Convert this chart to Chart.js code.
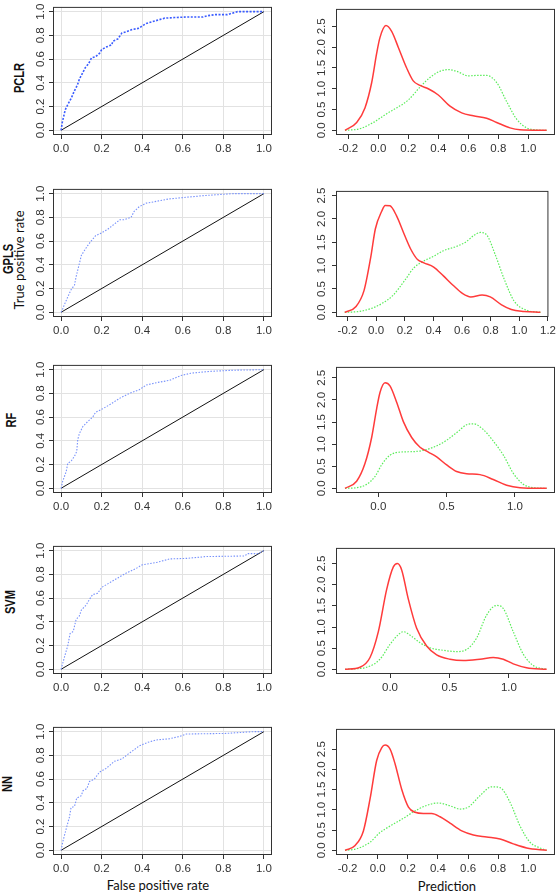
<!DOCTYPE html>
<html>
<head>
<meta charset="utf-8">
<script src="https://cdn.jsdelivr.net/npm/chart.js@4.4.0/dist/chart.umd.min.js"></script>
<style>
  body { margin: 0; background: #fff; width: 559px; height: 893px; position: relative; overflow: hidden; }
  canvas { position: absolute; }
  .lbl { position: absolute; white-space: nowrap; line-height: 1; color: #111; }
  .model { font-family: 'Liberation Sans', Arial, sans-serif; font-size: 15px; font-weight: bold; transform: translate(-50%, -50%) rotate(-90deg) scaleX(0.74); }
  .axt { font-family: Lato, 'Open Sans', sans-serif; font-size: 13px; transform: translate(-50%, -50%); }
  .axt.rot { transform: translate(-50%, -50%) rotate(-90deg); }
</style>
</head>
<body>

<div class="lbl model" style="left:18px; top:78px;">PCLR</div>
<div class="lbl model" style="left:6.5px; top:259px;">GPLS</div>
<div class="lbl axt rot" style="left:18.5px; top:259.5px;">True positive rate</div>
<div class="lbl model" style="left:10px; top:420px;">RF</div>
<div class="lbl model" style="left:9px; top:602px;">SVM</div>
<div class="lbl model" style="left:6px; top:784px;">NN</div>
<div class="lbl axt" style="left:158px; top:885px;">False positive rate</div>
<div class="lbl axt" style="left:447px; top:886px;">Prediction</div>

<script>
// ROC curves: [false positive rate, true positive rate]
const pclrRoc = [[0,0],[0.005,0.06],[0.02,0.17],[0.025,0.19],[0.04,0.24],[0.05,0.27],[0.065,0.33],[0.08,0.38],[0.09,0.43],[0.105,0.48],[0.12,0.53],[0.135,0.56],[0.15,0.61],[0.17,0.62],[0.19,0.65],[0.2,0.68],[0.22,0.70],[0.25,0.72],[0.255,0.75],[0.28,0.77],[0.30,0.82],[0.32,0.83],[0.35,0.85],[0.385,0.86],[0.40,0.88],[0.42,0.90],[0.45,0.915],[0.48,0.93],[0.51,0.945],[0.56,0.95],[0.62,0.955],[0.70,0.955],[0.72,0.965],[0.76,0.975],[0.82,0.975],[0.84,0.985],[0.87,1.0],[1,1]];
const gplsRoc = [[0,0],[0.008,0.03],[0.016,0.064],[0.033,0.13],[0.049,0.19],[0.066,0.23],[0.074,0.30],[0.09,0.41],[0.1,0.48],[0.115,0.52],[0.13,0.56],[0.148,0.60],[0.17,0.645],[0.2,0.67],[0.23,0.70],[0.26,0.74],[0.29,0.78],[0.31,0.78],[0.345,0.80],[0.36,0.85],[0.385,0.89],[0.42,0.92],[0.47,0.935],[0.53,0.955],[0.62,0.97],[0.715,0.985],[0.85,1.0],[1,1]];
const rfRoc = [[0,0],[0.008,0.06],[0.025,0.14],[0.033,0.21],[0.05,0.23],[0.066,0.27],[0.077,0.31],[0.082,0.41],[0.09,0.46],[0.107,0.52],[0.13,0.56],[0.156,0.60],[0.17,0.64],[0.205,0.67],[0.245,0.71],[0.29,0.76],[0.337,0.80],[0.385,0.83],[0.42,0.87],[0.47,0.89],[0.535,0.91],[0.59,0.95],[0.64,0.97],[0.73,0.985],[0.85,0.995],[1,1]];
const svmRoc = [[0,0],[0.016,0.10],[0.033,0.2],[0.044,0.30],[0.06,0.32],[0.074,0.42],[0.09,0.45],[0.1,0.50],[0.123,0.54],[0.14,0.59],[0.156,0.63],[0.18,0.64],[0.2,0.69],[0.23,0.72],[0.28,0.77],[0.32,0.81],[0.37,0.85],[0.4,0.88],[0.47,0.90],[0.535,0.93],[0.62,0.935],[0.715,0.95],[0.905,0.955],[0.92,0.975],[0.97,0.975],[1,1]];
const nnRoc = [[0,0],[0.008,0.07],[0.025,0.18],[0.041,0.28],[0.049,0.36],[0.066,0.37],[0.077,0.44],[0.1,0.46],[0.107,0.50],[0.127,0.52],[0.14,0.58],[0.164,0.60],[0.19,0.66],[0.222,0.69],[0.263,0.75],[0.30,0.77],[0.33,0.81],[0.354,0.84],[0.386,0.88],[0.428,0.91],[0.47,0.93],[0.535,0.94],[0.584,0.96],[0.617,0.98],[0.81,0.985],[0.95,1.0],[1,1]];
const chanceLine = [[0,0],[1,1]];

// prediction densities: [prediction, density]; red = negatives, green = positives
const pclrNeg = [[-0.222,0],[-0.144,0.19],[-0.089,0.54],[-0.044,1.15],[-0.011,1.85],[0.011,2.23],[0.051,2.52],[0.089,2.38],[0.133,2.0],[0.189,1.5],[0.233,1.19],[0.278,1.08],[0.333,1.0],[0.4,0.85],[0.478,0.58],[0.556,0.42],[0.633,0.35],[0.722,0.29],[0.789,0.19],[0.878,0.06],[0.944,0.015],[1.122,0]];
const pclrPos = [[-0.222,0],[-0.122,0.04],[-0.033,0.19],[0.056,0.40],[0.122,0.54],[0.2,0.73],[0.278,1.04],[0.344,1.27],[0.411,1.42],[0.467,1.46],[0.522,1.42],[0.6,1.31],[0.656,1.32],[0.722,1.32],[0.789,1.15],[0.856,0.69],[0.922,0.27],[0.989,0.06],[1.056,0.01],[1.122,0]];
const gplsNeg = [[-0.219,0],[-0.14,0.125],[-0.084,0.47],[-0.038,1.17],[-0.005,1.79],[0.04,2.17],[0.063,2.29],[0.097,2.28],[0.142,2.07],[0.199,1.65],[0.244,1.34],[0.289,1.13],[0.334,1.06],[0.402,0.97],[0.47,0.78],[0.537,0.58],[0.605,0.40],[0.661,0.33],[0.74,0.37],[0.797,0.33],[0.876,0.16],[0.944,0.06],[1.034,0.02],[1.147,0]];
const gplsPos = [[-0.219,0],[-0.117,0.02],[-0.027,0.09],[0.041,0.19],[0.12,0.37],[0.199,0.68],[0.266,0.96],[0.334,1.10],[0.402,1.20],[0.47,1.32],[0.56,1.41],[0.628,1.51],[0.684,1.65],[0.729,1.71],[0.774,1.65],[0.831,1.24],[0.898,0.68],[0.966,0.23],[1.056,0.04],[1.147,0]];
const rfNeg = [[-0.244,0],[-0.159,0.16],[-0.098,0.56],[-0.049,1.15],[-0.012,1.81],[0.012,2.17],[0.049,2.39],[0.085,2.32],[0.134,1.95],[0.183,1.51],[0.244,1.15],[0.305,0.93],[0.366,0.82],[0.427,0.71],[0.5,0.53],[0.573,0.38],[0.646,0.33],[0.744,0.31],[0.841,0.20],[0.939,0.07],[1.037,0.015],[1.232,0]];
const rfPos = [[-0.244,0],[-0.159,0.015],[-0.085,0.09],[-0.024,0.27],[0.024,0.53],[0.085,0.75],[0.159,0.82],[0.256,0.83],[0.329,0.86],[0.427,0.96],[0.5,1.09],[0.585,1.29],[0.646,1.44],[0.695,1.46],[0.768,1.33],[0.841,1.07],[0.915,0.75],[0.988,0.34],[1.061,0.09],[1.134,0.015],[1.232,0]];
const svmNeg = [[-0.378,0],[-0.252,0.05],[-0.168,0.28],[-0.098,0.89],[-0.028,1.89],[0.028,2.42],[0.062,2.5],[0.098,2.35],[0.154,1.66],[0.224,0.97],[0.308,0.55],[0.392,0.34],[0.504,0.24],[0.616,0.21],[0.756,0.24],[0.868,0.28],[0.952,0.24],[1.036,0.13],[1.148,0.04],[1.317,0]];
const svmPos = [[-0.378,0],[-0.196,0.05],[-0.084,0.24],[0,0.59],[0.07,0.82],[0.112,0.89],[0.182,0.78],[0.252,0.63],[0.336,0.51],[0.448,0.45],[0.56,0.42],[0.644,0.47],[0.728,0.74],[0.812,1.28],[0.896,1.51],[0.952,1.44],[1.036,0.89],[1.12,0.36],[1.204,0.09],[1.317,0]];
const nnNeg = [[-0.217,0],[-0.15,0.12],[-0.095,0.48],[-0.051,1.27],[-0.007,2.22],[0.027,2.54],[0.049,2.6],[0.082,2.5],[0.115,2.14],[0.159,1.51],[0.204,1.07],[0.248,0.94],[0.303,0.91],[0.358,0.91],[0.414,0.83],[0.48,0.67],[0.558,0.48],[0.635,0.38],[0.723,0.33],[0.812,0.28],[0.9,0.16],[0.989,0.06],[1.122,0]];
const nnPos = [[-0.217,0],[-0.139,0.04],[-0.051,0.2],[0.015,0.44],[0.082,0.6],[0.17,0.79],[0.237,0.95],[0.325,1.11],[0.403,1.17],[0.48,1.10],[0.546,1.02],[0.602,1.07],[0.679,1.35],[0.757,1.57],[0.812,1.55],[0.878,1.19],[0.945,0.6],[1.011,0.2],[1.077,0.06],[1.122,0]];

// tick labels
const rocTicks = [0, 0.2, 0.4, 0.6, 0.8, 1.0];
const densYTicks = [0, 0.5, 1.0, 1.5, 2.0, 2.5];
const densXTicksFine = [-0.2, 0, 0.2, 0.4, 0.6, 0.8, 1.0];
const densXTicksWide = [-0.2, 0, 0.2, 0.4, 0.6, 0.8, 1.0, 1.2];
const densXTicksHalf = [0, 0.5, 1.0];

Chart.defaults.font.family = "'Liberation Sans', Arial, sans-serif";
Chart.defaults.color = '#333';

const rows = [
    { roc: pclrRoc, neg: pclrNeg, pos: pclrPos, xt: densXTicksFine, xr: [-0.282, 1.178], yr: [-0.112, 2.92], bold: true },
    { roc: gplsRoc, neg: gplsNeg, pos: gplsPos, xt: densXTicksWide, xr: [-0.28, 1.203], yr: [-0.1, 2.6] },
    { roc: rfRoc, neg: rfNeg, pos: rfPos, xt: densXTicksHalf, xr: [-0.31, 1.293], yr: [-0.106, 2.748] },
    { roc: svmRoc, neg: svmNeg, pos: svmPos, xt: densXTicksHalf, xr: [-0.454, 1.387], yr: [-0.11, 2.87] },
    { roc: nnRoc, neg: nnNeg, pos: nnPos, xt: densXTicksFine, xr: [-0.277, 1.177], yr: [-0.115, 3.0] }
];
const boxTops = [4, 186, 362, 543, 724];

// box around the plot region, like R's box()
const framePlugin = {
    id: 'frame',
    afterDraw(chart) {
        const { ctx, chartArea: a } = chart;
        ctx.save();
        ctx.strokeStyle = '#333';
        ctx.lineWidth = 1;
        ctx.strokeRect(a.left + 0.5, a.top + 0.5, a.right - a.left - 1, a.bottom - a.top - 1);
        ctx.restore();
    }
};

const toXY = arr => arr.map(p => ({ x: p[0], y: p[1] }));

function scale(axis, range, ticks, yWidth, withGrid, pad) {
    const s = {
        type: 'linear',
        min: range[0],
        max: range[1],
        afterBuildTicks: sc => { sc.ticks = ticks.map(v => ({ value: v })); },
        border: { display: false },
        grid: {
            drawOnChartArea: withGrid,
            color: '#e2e2e2',
            tickColor: '#333',
            tickLength: 4
        },
        ticks: {
            color: '#333',
            font: { size: 11.5 },
            autoSkip: false,
            callback: v => v.toFixed(1)
        }
    };
    if (axis === 'y') {
        s.afterFit = sc => { sc.width = yWidth; };
        s.ticks.minRotation = 90;
        s.ticks.maxRotation = 90;
        s.ticks.crossAlign = 'center';
        s.ticks.padding = pad;
    } else {
        s.afterFit = sc => { sc.height = 24; };
        s.ticks.padding = 3;
    }
    return s;
}

function makeCanvas(left, top, w, h) {
    const c = document.createElement('canvas');
    c.width = w;
    c.height = h;
    c.style.left = left + 'px';
    c.style.top = top + 'px';
    document.body.appendChild(c);
    return c;
}

function baseOptions(xScale, yScale, padRight) {
    return {
        responsive: false,
        animation: false,
        devicePixelRatio: 1,
        layout: { padding: { top: 4, right: padRight, left: 0, bottom: 0 }, autoPadding: false },
        plugins: { legend: { display: false }, tooltip: { enabled: false } },
        elements: { point: { radius: 0 } },
        scales: { x: xScale, y: yScale }
    };
}

rows.forEach((r, i) => {
    const top = boxTops[i] - 4;

    // ROC panel
    new Chart(makeCanvas(0, top, 280, 159), {
        type: 'line',
        data: {
            datasets: [
                {
                    data: toXY(r.roc),
                    borderColor: r.bold ? '#3a5cff' : '#7892fb',
                    borderWidth: r.bold ? 1.6 : 1.1,
                    borderDash: r.bold ? [2, 1.5] : [1.5, 1.5],
                    tension: 0
                },
                {
                    data: toXY(chanceLine),
                    borderColor: '#111',
                    borderWidth: 1,
                    tension: 0
                }
            ]
        },
        options: baseOptions(
            scale('x', [-0.04, 1.04], rocTicks, 0, true),
            scale('y', [-0.04, 1.04], rocTicks, 53, true, 0),
            8
        ),
        plugins: [framePlugin]
    });

    // density panel
    new Chart(makeCanvas(280, top, 279, 159), {
        type: 'line',
        data: {
            datasets: [
                {
                    data: toXY(r.neg),
                    borderColor: '#ff3b3b',
                    borderWidth: 1.5,
                    cubicInterpolationMode: 'monotone'
                },
                {
                    data: toXY(r.pos),
                    borderColor: '#5aec5a',
                    borderWidth: 1.2,
                    borderDash: [1.5, 1.5],
                    cubicInterpolationMode: 'monotone'
                }
            ]
        },
        options: baseOptions(
            scale('x', r.xr, r.xt, 0, false),
            scale('y', r.yr, densYTicks, 56, false, 2),
            4
        ),
        plugins: [framePlugin]
    });
});
</script>
</body>
</html>
